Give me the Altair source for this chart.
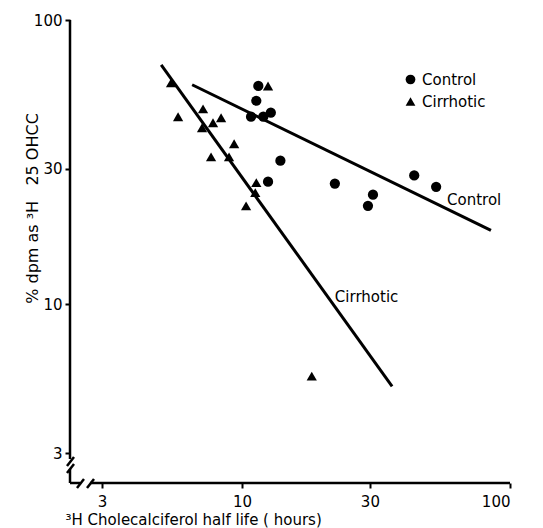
import altair as alt
import pandas as pd

# ---- data ----
control_x = [11.5, 11.3, 10.8, 12.0, 12.8, 13.9, 12.5, 22.2, 30.8, 29.5, 43.9, 53.0]
control_y = [58.6, 52.0, 45.7, 45.7, 47.2, 32.0, 27.0, 26.6, 24.3, 22.2, 28.4, 25.9]
cirr_x = [5.43, 12.5, 5.77, 7.15, 8.35, 7.79, 7.09, 9.34, 7.66, 8.94, 11.3, 11.2, 10.35, 18.2]
cirr_y = [60.1, 58.6, 45.7, 48.7, 45.3, 43.5, 41.8, 36.7, 33.0, 33.0, 26.8, 24.7, 22.2, 5.59]

# regression lines (end points)
control_line_x = [6.51, 84.9]
control_line_y = [59.2, 18.2]
cirr_line_x = [4.99, 36.3]
cirr_line_y = [69.5, 5.15]

# line labels
line_label_text = ["Control", "Cirrhotic"]
line_label_x = [58.2, 22.2]
line_label_y = [23.3, 10.6]

tick_values = [3, 10, 30, 100]
x_domain = [2.279, 100]
y_domain = [2.353, 100]

# axis lines with breaks (x, y, x2, y2)
axis_segments = [
    (2.279, 100, 2.279, 2.858),
    (2.279, 2.636, 2.279, 2.353),
    (2.279, 2.353, 2.484, 2.353),
    (2.706, 2.353, 100, 2.353),
    (2.221, 2.701, 2.359, 2.904),
    (2.221, 2.552, 2.359, 2.745),
    (2.420, 2.261, 2.570, 2.431),
    (2.638, 2.261, 2.801, 2.431),
]

FONT = "DejaVu Sans"
NB = "\u00a0"

pts = pd.DataFrame(
    {
        "x": control_x + cirr_x,
        "y": control_y + cirr_y,
        "group": ["Control"] * len(control_x) + ["Cirrhotic"] * len(cirr_x),
    }
)
lines = pd.DataFrame(
    {
        "x": control_line_x + cirr_line_x,
        "y": control_line_y + cirr_line_y,
        "group": ["Control"] * 2 + ["Cirrhotic"] * 2,
    }
)
labels = pd.DataFrame({"x": line_label_x, "y": line_label_y, "t": line_label_text})
segs = pd.DataFrame(axis_segments, columns=["x", "y", "x2", "y2"])

xscale = alt.Scale(type="log", domain=x_domain, nice=False)
yscale = alt.Scale(type="log", domain=y_domain, nice=False)

xaxis = alt.Axis(
    values=tick_values,
    format="d",
    domain=False,
    grid=False,
    tickColor="black",
    tickWidth=2,
    tickSize=5,
    labelFontSize=15,
    labelFont=FONT,
    labelColor="black",
    labelPadding=6,
    title="\u00b3H" + NB + "Cholecalciferol half life ( hours)",
    titleFont=FONT,
    titleFontSize=15,
    titleFontWeight="normal",
    titleColor="black",
    titleAlign="left",
    titleAnchor="start",
    titleX=-5,
    titleY=41,
    titleBaseline="alphabetic",
)
yaxis = alt.Axis(
    values=tick_values,
    format="d",
    domain=False,
    grid=False,
    tickColor="black",
    tickWidth=2,
    tickSize=5,
    labelFontSize=15,
    labelFont=FONT,
    labelColor="black",
    labelPadding=3,
    title="% dpm as \u00b3H" + NB * 3 + "25 OHCC",
    titleFont=FONT,
    titleFontSize=16,
    titleFontWeight="normal",
    titleColor="black",
    titleAngle=270,
    titleAlign="center",
    titleX=-33,
    titleY=188,
    titleBaseline="alphabetic",
)

points = (
    alt.Chart(pts)
    .mark_point(filled=True, fill="black", color="black", size=105, opacity=1)
    .encode(
        x=alt.X("x:Q", scale=xscale, axis=xaxis),
        y=alt.Y("y:Q", scale=yscale, axis=yaxis),
        shape=alt.Shape(
            "group:N",
            sort=["Control", "Cirrhotic"],
            scale=alt.Scale(domain=["Control", "Cirrhotic"], range=["circle", "triangle-up"]),
            legend=alt.Legend(
                title=None,
                orient="none",
                legendX=333,
                legendY=52,
                padding=0,
                labelFontSize=15,
                labelFont=FONT,
                labelColor="black",
                labelOffset=4,
                rowPadding=6,
                symbolFillColor="black",
                symbolStrokeColor="black",
                symbolStrokeWidth=0,
                symbolSize=95,
                symbolOpacity=1,
            ),
        ),
    )
)

fit = (
    alt.Chart(lines)
    .mark_line(color="black", strokeWidth=3)
    .encode(
        x=alt.X("x:Q", scale=xscale, axis=xaxis),
        y=alt.Y("y:Q", scale=yscale, axis=yaxis),
        detail="group:N",
    )
)

axis_lines = (
    alt.Chart(segs)
    .mark_rule(color="black", strokeWidth=2.5)
    .encode(
        x=alt.X("x:Q", scale=xscale, axis=xaxis),
        y=alt.Y("y:Q", scale=yscale, axis=yaxis),
        x2="x2:Q",
        y2="y2:Q",
    )
)

text = (
    alt.Chart(labels)
    .mark_text(align="left", baseline="middle", fontSize=15, font=FONT, color="black")
    .encode(
        x=alt.X("x:Q", scale=xscale, axis=xaxis),
        y=alt.Y("y:Q", scale=yscale, axis=yaxis),
        text="t:N",
    )
)

chart = (
    alt.layer(axis_lines, fit, points, text)
    .properties(
        width=440,
        height=463,
        autosize=alt.AutoSizeParams(type="none"),
        padding={"left": 62, "top": 12, "right": 25, "bottom": 45},
        background="white",
    )
    .configure_view(stroke=None)
)

chart.save("out.html", embed_options={"renderer": "svg", "actions": False})
